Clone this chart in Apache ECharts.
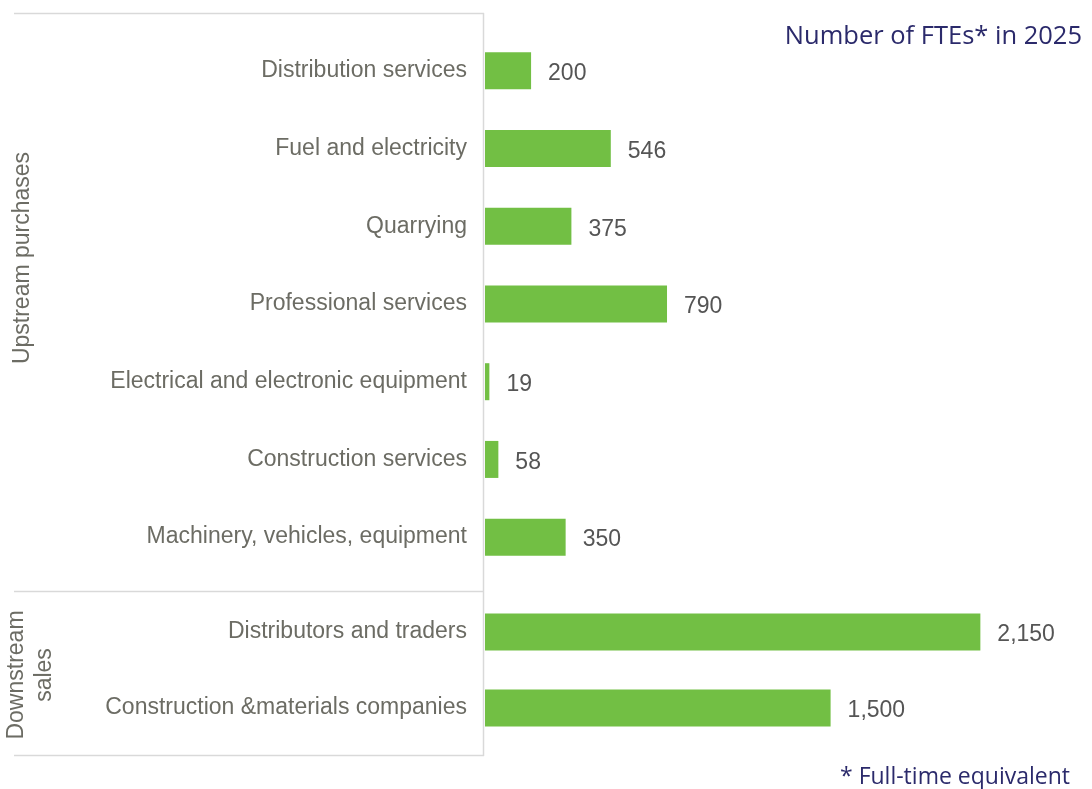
<!DOCTYPE html>
<html><head><meta charset="utf-8">
<script src="https://cdn.jsdelivr.net/npm/echarts@6/dist/echarts.min.js"></script>
<style>html,body{margin:0;padding:0;background:#fff}#c{width:1092px;height:789px}</style>
</head><body><div id="c"></div>
<script>
const upstreamCategories = ["Distribution services","Fuel and electricity","Quarrying","Professional services","Electrical and electronic equipment","Construction services","Machinery, vehicles, equipment"];
const upstreamValues = [200,546,375,790,19,58,350];
const downstreamCategories = ["Distributors and traders","Construction &materials companies"];
const downstreamValues = [2150,1500];
const groupLabels = ["Upstream purchases","Downstream\nsales"];
const titleText = "Number of FTEs* in 2025";
const footnoteText = "* Full-time equivalent";

const GRAY = '#6c6c64', VGRAY = '#555555', LINE = '#d9d9d9', GREEN = '#72bf44', NAVY = '#2b2a6b';
const chart = echarts.init(document.getElementById('c'));
const xMax = 2500;
const fmt = v => v.value.toLocaleString('en-US');
function xa(i){return {type:'value',gridIndex:i,min:0,max:xMax,show:false};}
function ya(i,cats){return {type:'category',gridIndex:i,data:cats,inverse:true,
  axisLine:{show:false},axisTick:{show:false},
  axisLabel:{color:GRAY,fontSize:23,fontFamily:'Liberation Sans, Arial',margin:18,padding:[2,0,0,0]}};}
function ser(i,vals){return {type:'bar',xAxisIndex:i,yAxisIndex:i,data:vals,barWidth:37,
  itemStyle:{color:GREEN},
  label:{show:true,position:'right',distance:17,color:VGRAY,fontSize:23,fontFamily:'Liberation Sans, Arial',formatter:fmt,offset:[0,3]}};}
chart.setOption({
  animation:false,
  grid:[{left:485,top:32,height:544,right:31},{left:485,top:594,height:152,right:31}],
  xAxis:[xa(0),xa(1)],
  yAxis:[ya(0,upstreamCategories),ya(1,downstreamCategories)],
  series:[ser(0,upstreamValues),ser(1,downstreamValues)],
  graphic:[
    {type:'line',shape:{x1:483.5,y1:13,x2:483.5,y2:756},style:{stroke:LINE,lineWidth:1.5}},
    {type:'line',shape:{x1:14,y1:13.5,x2:484,y2:13.5},style:{stroke:LINE,lineWidth:1.5}},
    {type:'line',shape:{x1:14,y1:591.5,x2:484,y2:591.5},style:{stroke:LINE,lineWidth:1.5}},
    {type:'line',shape:{x1:14,y1:755.5,x2:484,y2:755.5},style:{stroke:LINE,lineWidth:1.5}},
    {type:'text',x:23,y:258,rotation:Math.PI/2,style:{text:groupLabels[0],fill:GRAY,font:'23px "Liberation Sans", Arial',align:'center',verticalAlign:'middle'}},
    {type:'text',x:31,y:675,rotation:Math.PI/2,style:{text:groupLabels[1],fill:GRAY,font:'23px "Liberation Sans", Arial',align:'center',verticalAlign:'middle',lineHeight:28}},
    {type:'text',right:10,top:24,style:{text:titleText,fill:NAVY,font:'25.5px "Open Sans", "Noto Sans", sans-serif'}},
    {type:'text',right:22,top:766,style:{text:footnoteText,fill:NAVY,font:'23px "Open Sans", "Noto Sans", sans-serif'}}
  ]
});
</script></body></html>
